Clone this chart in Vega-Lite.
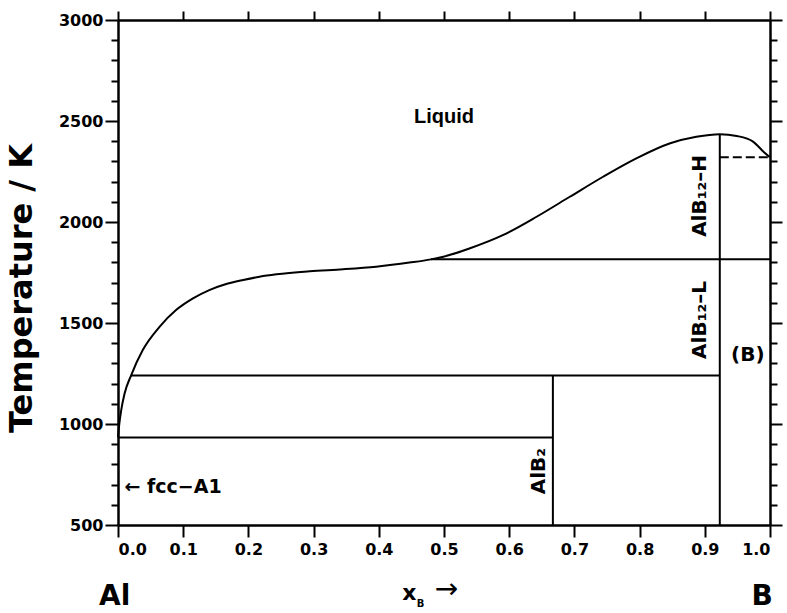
{
  "$schema": "https://vega.github.io/schema/vega-lite/v6.json",
  "autosize": {"type": "none"},
  "padding": {"left": 118, "top": 20, "right": 17, "bottom": 88},
  "width": 652,
  "height": 505,
  "background": "white",
  "config": {
    "view": {"stroke": null},
    "axis": {
      "grid": false,
      "domainColor": "black",
      "domainWidth": 2.5,
      "tickColor": "black",
      "tickWidth": 2,
      "labelColor": "black",
      "labelFont": "DejaVu Sans",
      "labelFontWeight": "bold",
      "labelFontSize": 16,
      "titleColor": "black"
    },
    "text": {"font": "DejaVu Sans", "fontWeight": "bold", "color": "black"}
  },
  "resolve": {"axis": {"x": "independent", "y": "independent"}},
  "layer": [
    {
      "data": {"values": [
        {"x": 0, "T": 933}, {"x": 0.002, "T": 1000}, {"x": 0.005, "T": 1070},
        {"x": 0.01, "T": 1150}, {"x": 0.02, "T": 1240}, {"x": 0.038, "T": 1366},
        {"x": 0.064, "T": 1482}, {"x": 0.089, "T": 1564}, {"x": 0.115, "T": 1622},
        {"x": 0.14, "T": 1663}, {"x": 0.166, "T": 1693}, {"x": 0.192, "T": 1713},
        {"x": 0.217, "T": 1729}, {"x": 0.243, "T": 1741}, {"x": 0.294, "T": 1756},
        {"x": 0.345, "T": 1766}, {"x": 0.396, "T": 1779}, {"x": 0.447, "T": 1799},
        {"x": 0.48, "T": 1815}, {"x": 0.499, "T": 1828}, {"x": 0.54, "T": 1870},
        {"x": 0.591, "T": 1936}, {"x": 0.642, "T": 2026}, {"x": 0.693, "T": 2125},
        {"x": 0.744, "T": 2224}, {"x": 0.795, "T": 2315}, {"x": 0.847, "T": 2390},
        {"x": 0.887, "T": 2422}, {"x": 0.923, "T": 2435}, {"x": 0.949, "T": 2426},
        {"x": 0.974, "T": 2398}, {"x": 0.99, "T": 2348}, {"x": 1.0, "T": 2320}
      ]},
      "mark": {"type": "line", "color": "black", "strokeWidth": 2, "interpolate": "monotone"},
      "encoding": {
        "x": {
          "field": "x", "type": "quantitative",
          "scale": {"domain": [0, 1], "nice": false, "zero": false},
          "axis": {
            "orient": "bottom",
            "values": [0, 0.1, 0.2, 0.3, 0.4, 0.5, 0.6, 0.7, 0.8, 0.9, 1.0],
            "format": ".1f",
            "tickSize": 12,
            "labelPadding": 4,
            "title": null
          }
        },
        "y": {
          "field": "T", "type": "quantitative",
          "scale": {"domain": [500, 3000], "nice": false, "zero": false},
          "axis": {
            "orient": "left",
            "values": [500, 600, 700, 800, 900, 1000, 1100, 1200, 1300, 1400, 1500, 1600, 1700, 1800, 1900, 2000, 2100, 2200, 2300, 2400, 2500, 2600, 2700, 2800, 2900, 3000],
            "labelExpr": "datum.value % 500 === 0 ? datum.label : ''",
            "format": "d",
            "tickSize": {"condition": {"test": "datum.value % 500 === 0", "value": 13}, "value": 7},
            "labelPadding": 2,
            "title": "Temperature / K",
            "titleFont": "DejaVu Sans",
            "titleFontWeight": "bold",
            "titleFontSize": 32,
            "titleX": -80,
            "titleY": 268
          }
        }
      }
    },
    {
      "data": {"values": [
        {"x": 0, "x2": 0.667, "T": 933, "T2": 933},
        {"x": 0.02, "x2": 0.923, "T": 1240, "T2": 1240},
        {"x": 0.48, "x2": 1.0, "T": 1815, "T2": 1815},
        {"x": 0.667, "x2": 0.667, "T": 500, "T2": 1240},
        {"x": 0.923, "x2": 0.923, "T": 500, "T2": 2435}
      ]},
      "mark": {"type": "rule", "color": "black", "strokeWidth": 2},
      "encoding": {
        "x": {
          "field": "x", "type": "quantitative",
          "scale": {"domain": [0, 1], "nice": false, "zero": false},
          "axis": {
            "orient": "top",
            "values": [0, 0.1, 0.2, 0.3, 0.4, 0.5, 0.6, 0.7, 0.8, 0.9, 1.0],
            "labels": false,
            "tickSize": 9,
            "title": null
          }
        },
        "x2": {"field": "x2"},
        "y": {
          "field": "T", "type": "quantitative",
          "scale": {"domain": [500, 3000], "nice": false, "zero": false},
          "axis": {
            "orient": "right",
            "values": [500, 600, 700, 800, 900, 1000, 1100, 1200, 1300, 1400, 1500, 1600, 1700, 1800, 1900, 2000, 2100, 2200, 2300, 2400, 2500, 2600, 2700, 2800, 2900, 3000],
            "labels": false,
            "tickSize": {"condition": {"test": "datum.value % 500 === 0", "value": 12}, "value": 7},
            "title": null
          }
        },
        "y2": {"field": "T2"}
      }
    },
    {
      "data": {"values": [{"x": 0.923, "x2": 1.0, "T": 2320, "T2": 2320}]},
      "mark": {"type": "rule", "color": "black", "strokeWidth": 2, "strokeDash": [9, 4]},
      "encoding": {
        "x": {"field": "x", "type": "quantitative", "scale": {"domain": [0, 1], "nice": false, "zero": false}, "axis": null},
        "x2": {"field": "x2"},
        "y": {"field": "T", "type": "quantitative", "scale": {"domain": [500, 3000], "nice": false, "zero": false}, "axis": null},
        "y2": {"field": "T2"}
      }
    },
    {
      "data": {"values": [{"x": 0.5, "T": 2490, "label": "Liquid"}]},
      "mark": {"type": "text", "font": "Liberation Sans", "fontSize": 20, "align": "center", "baseline": "alphabetic"},
      "encoding": {
        "x": {"field": "x", "type": "quantitative", "scale": {"domain": [0, 1], "nice": false, "zero": false}, "axis": null},
        "y": {"field": "T", "type": "quantitative", "scale": {"domain": [500, 3000], "nice": false, "zero": false}, "axis": null},
        "text": {"field": "label"}
      }
    },
    {
      "data": {"values": [
        {"x": 0.892, "T": 2129, "label": "AlB₁₂–H"},
        {"x": 0.893, "T": 1515, "label": "AlB₁₂–L"},
        {"x": 0.646, "T": 767, "label": "AlB₂"}
      ]},
      "mark": {"type": "text", "fontSize": 20, "angle": 270, "align": "center", "baseline": "middle"},
      "encoding": {
        "x": {"field": "x", "type": "quantitative", "scale": {"domain": [0, 1], "nice": false, "zero": false}, "axis": null},
        "y": {"field": "T", "type": "quantitative", "scale": {"domain": [500, 3000], "nice": false, "zero": false}, "axis": null},
        "text": {"field": "label"}
      }
    },
    {
      "data": {"values": [{"x": 0.966, "T": 1342, "label": "(B)"}]},
      "mark": {"type": "text", "fontSize": 20, "align": "center", "baseline": "middle"},
      "encoding": {
        "x": {"field": "x", "type": "quantitative", "scale": {"domain": [0, 1], "nice": false, "zero": false}, "axis": null},
        "y": {"field": "T", "type": "quantitative", "scale": {"domain": [500, 3000], "nice": false, "zero": false}, "axis": null},
        "text": {"field": "label"}
      }
    },
    {
      "data": {"values": [{"x": 0.01, "T": 657, "label": "← fcc−A1"}]},
      "mark": {"type": "text", "fontSize": 19, "align": "left", "baseline": "alphabetic"},
      "encoding": {
        "x": {"field": "x", "type": "quantitative", "scale": {"domain": [0, 1], "nice": false, "zero": false}, "axis": null},
        "y": {"field": "T", "type": "quantitative", "scale": {"domain": [500, 3000], "nice": false, "zero": false}, "axis": null},
        "text": {"field": "label"}
      }
    },
    {
      "data": {"values": [
        {"x": -0.005, "T": 104, "label": "Al"},
        {"x": 0.988, "T": 104, "label": "B"}
      ]},
      "mark": {"type": "text", "fontSize": 28, "align": "center", "baseline": "alphabetic"},
      "encoding": {
        "x": {"field": "x", "type": "quantitative", "scale": {"domain": [0, 1], "nice": false, "zero": false}, "axis": null},
        "y": {"field": "T", "type": "quantitative", "scale": {"domain": [500, 3000], "nice": false, "zero": false}, "axis": null},
        "text": {"field": "label"}
      }
    },
    {
      "data": {"values": [{"x": 0.447, "T": 129, "label": "x"}]},
      "mark": {"type": "text", "fontSize": 22, "align": "center", "baseline": "alphabetic"},
      "encoding": {
        "x": {"field": "x", "type": "quantitative", "scale": {"domain": [0, 1], "nice": false, "zero": false}, "axis": null},
        "y": {"field": "T", "type": "quantitative", "scale": {"domain": [500, 3000], "nice": false, "zero": false}, "axis": null},
        "text": {"field": "label"}
      }
    },
    {
      "data": {"values": [{"x": 0.464, "T": 94, "label": "B"}]},
      "mark": {"type": "text", "fontSize": 10, "align": "center", "baseline": "alphabetic"},
      "encoding": {
        "x": {"field": "x", "type": "quantitative", "scale": {"domain": [0, 1], "nice": false, "zero": false}, "axis": null},
        "y": {"field": "T", "type": "quantitative", "scale": {"domain": [500, 3000], "nice": false, "zero": false}, "axis": null},
        "text": {"field": "label"}
      }
    },
    {
      "data": {"values": [{"x": 0.504, "T": 178, "label": "→"}]},
      "mark": {"type": "text", "fontSize": 28, "fontWeight": "normal", "align": "center", "baseline": "middle"},
      "encoding": {
        "x": {"field": "x", "type": "quantitative", "scale": {"domain": [0, 1], "nice": false, "zero": false}, "axis": null},
        "y": {"field": "T", "type": "quantitative", "scale": {"domain": [500, 3000], "nice": false, "zero": false}, "axis": null},
        "text": {"field": "label"}
      }
    }
  ]
}
